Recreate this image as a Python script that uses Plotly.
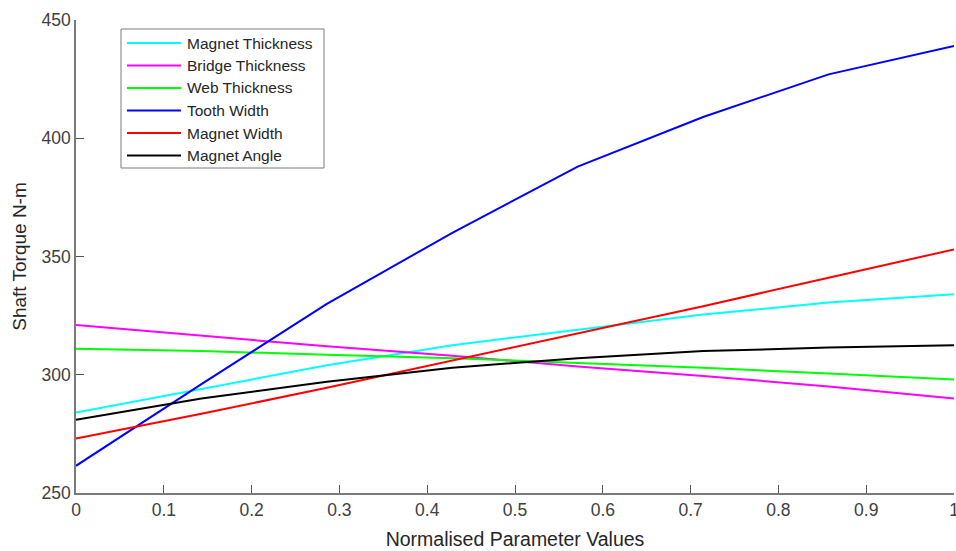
import plotly.graph_objects as go

# Normalised parameter sweep (8 samples from 0 to 1)
x_norm = [0, 1/7, 2/7, 3/7, 4/7, 5/7, 6/7, 1]

series_names = ["Magnet Thickness", "Bridge Thickness", "Web Thickness",
                "Tooth Width", "Magnet Width", "Magnet Angle"]
series_colors = ["#00FFFF", "#FF00FF", "#00FF00", "#0000FF", "#FF0000", "#000000"]

magnet_thickness = [284, 294, 304, 312.5, 319, 325.5, 330.5, 334]
bridge_thickness = [321, 316.5, 312, 308, 303.5, 299.5, 295, 290]
web_thickness = [311, 310, 308.5, 307, 305, 303, 300.5, 298]
tooth_width = [261.5, 296, 330, 360, 388, 409, 427, 439]
magnet_width = [273, 283.5, 294.5, 306, 317.5, 329, 341, 353]
magnet_angle = [281, 290, 297, 303, 307, 310, 311.5, 312.5]

series_values = [magnet_thickness, bridge_thickness, web_thickness,
                 tooth_width, magnet_width, magnet_angle]

x_ticks = [0, 0.1, 0.2, 0.3, 0.4, 0.5, 0.6, 0.7, 0.8, 0.9, 1]
x_tick_text = ["0", "0.1", "0.2", "0.3", "0.4", "0.5", "0.6", "0.7", "0.8", "0.9", "1"]
y_ticks = [250, 300, 350, 400, 450]

W, H = 956, 551
ML, MR, MT, MB = 76, 2, 20, 58
PW, PH = W - ML - MR, H - MT - MB

AXIS_TXT = "#404040"
FONT = "Liberation Sans, Arial, sans-serif"

fig = go.Figure()
for name, color, vals in zip(series_names, series_colors, series_values):
    fig.add_trace(go.Scatter(x=x_norm, y=vals, mode="lines", name=name,
                             line=dict(color=color, width=2), showlegend=False))

def px_x(p):
    return (p - ML) / PW

def px_y(p):
    return (H - MB - p) / PH

# Legend box drawn in paper coordinates
shapes = [dict(type="rect", xref="paper", yref="paper",
               x0=px_x(121), x1=px_x(324), y0=px_y(168), y1=px_y(29),
               line=dict(color="#7a7a7a", width=1), fillcolor="white", layer="above")]
annotations = []
row_y = [43, 65.5, 88, 110.5, 133, 155.5]
for name, color, ry in zip(series_names, series_colors, row_y):
    shapes.append(dict(type="line", xref="paper", yref="paper",
                       x0=px_x(127), x1=px_x(181), y0=px_y(ry), y1=px_y(ry),
                       line=dict(color=color, width=2), layer="above"))
    annotations.append(dict(xref="paper", yref="paper", x=px_x(185), y=px_y(ry),
                            text=name, showarrow=False, xanchor="left", yanchor="middle",
                            font=dict(family=FONT, size=15.5, color="#262626")))

fig.update_layout(
    width=W, height=H,
    margin=dict(l=ML, r=MR, t=MT, b=MB, autoexpand=False),
    paper_bgcolor="white", plot_bgcolor="white",
    font=dict(family=FONT, color=AXIS_TXT),
    shapes=shapes, annotations=annotations,
    xaxis=dict(range=[0, 1], tickvals=x_ticks, ticktext=x_tick_text,
               ticks="inside", ticklen=8, tickcolor="#555555", tickwidth=1,
               ticklabeloverflow="allow", automargin=False,
               showgrid=False, zeroline=False, showline=True, linecolor="#7a7a7a",
               linewidth=1.5, tickfont=dict(size=17.5, color=AXIS_TXT),
               title=dict(text="Normalised Parameter Values",
                          font=dict(size=19.5, color="#262626"), standoff=14)),
    yaxis=dict(range=[250, 450], tickvals=y_ticks, automargin=False,
               ticks="inside", ticklen=8, tickcolor="#555555", tickwidth=1,
               showgrid=False, zeroline=False, showline=True, linecolor="#7a7a7a",
               linewidth=1.5, tickfont=dict(size=17.5, color=AXIS_TXT),
               title=dict(text="Shaft Torque N-m",
                          font=dict(size=19, color="#262626"), standoff=10)),
)

fig.write_html("out.html")
